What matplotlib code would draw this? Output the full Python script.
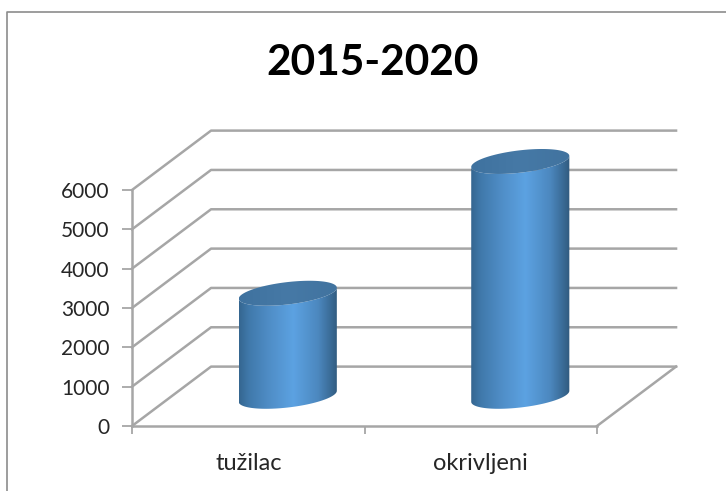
import numpy as np
import matplotlib
matplotlib.use('Agg')
import matplotlib.pyplot as plt
from matplotlib.colors import LinearSegmentedColormap
from matplotlib.lines import Line2D
from matplotlib.patches import Polygon

# Data
title = '2015-2020'
categories = ['tužilac', 'okrivljeni']
values = [2620, 5970]
y_ticks = [0, 1000, 2000, 3000, 4000, 5000, 6000]

# 3D look: shift of the back wall, in data units
depth_x, depth_y = 0.34, 1510
rx, ry_skew, ry = 0.211, 140, 285  # cylinder ellipse

W, H = 726, 491
grid_col = '#a6a6a6'
plt.rcParams['font.family'] = ['Lato', 'DejaVu Sans']

fig = plt.figure(figsize=(W/100, H/100), dpi=100)
ax = fig.add_axes([132/W, 1 - 426/H, (597-132)/W, (426-190)/H])
ax.set_xlim(0, len(categories))
ax.set_ylim(0, 6000)
ax.patch.set_alpha(0)
for s in ['top', 'right']:
    ax.spines[s].set_visible(False)
for s in ['left', 'bottom']:
    ax.spines[s].set_color(grid_col)
    ax.spines[s].set_linewidth(1.8)
ax.set_yticks(y_ticks)
ax.tick_params(axis='y', length=7, width=1.3, color=grid_col, labelsize=15,
               labelcolor='#262626', pad=9)
ax.set_xticks(range(len(categories) + 1))
ax.set_xticklabels([])
ax.tick_params(axis='x', length=6, width=1.3, color=grid_col)
ax.set_xticks([i + 0.5 for i in range(len(categories))], categories, minor=True)
ax.tick_params(axis='x', which='minor', length=0, labelsize=17, labelcolor='#262626', pad=19.5)

# Gridlines on the side wall and back wall
xmax = len(categories)
for v in y_ticks:
    ax.plot([0, depth_x, xmax + depth_x], [v, v + depth_y, v + depth_y],
            color=grid_col, lw=1.8, clip_on=False, zorder=1)
ax.plot([xmax, xmax + depth_x], [0, depth_y], color=grid_col, lw=1.8, clip_on=False, zorder=1)

# Cylinders
body_cmap = LinearSegmentedColormap.from_list('body', [
    (0, '#356690'), (0.1, '#4079ab'), (0.3, '#4f8dc6'), (0.55, '#5ca2e2'),
    (0.8, '#4c88bf'), (0.93, '#3a6b96'), (1, '#315a7e')])
top_cmap = LinearSegmentedColormap.from_list('top', ['#3f729f', '#4679a6', '#41739f'])
ramp = np.linspace(0, 1, 256).reshape(1, -1)

t_front = np.linspace(np.pi, 2*np.pi, 80)
t_all = np.linspace(0, 2*np.pi, 160)

for i, val in enumerate(values):
    cx = i + 0.5 + depth_x/2
    base = depth_y/2
    top = base + val
    bottom_arc = np.c_[cx + rx*np.cos(t_front), base + ry_skew*np.cos(t_front) + ry*np.sin(t_front)]
    top_arc = np.c_[cx + rx*np.cos(t_front), top + ry_skew*np.cos(t_front) + ry*np.sin(t_front)]
    body = Polygon(np.r_[bottom_arc, top_arc[::-1]], closed=True, fc='none', ec='none', clip_on=False)
    ax.add_patch(body)
    im = ax.imshow(ramp, cmap=body_cmap, aspect='auto', zorder=3,
                   extent=[cx - rx, cx + rx, base - 600, top + 600])
    im.set_clip_box(fig.bbox)
    im.set_clip_path(body)
    cap = Polygon(np.c_[cx + rx*np.cos(t_all), top + ry_skew*np.cos(t_all) + ry*np.sin(t_all)],
                  closed=True, fc='none', ec='none', clip_on=False)
    ax.add_patch(cap)
    im2 = ax.imshow(ramp, cmap=top_cmap, aspect='auto', zorder=4,
                    extent=[cx - rx, cx + rx, top - 600, top + 600])
    im2.set_clip_box(fig.bbox)
    im2.set_clip_path(cap)

ax.set_xlim(0, len(categories))
ax.set_ylim(0, 6000)

fig.text(373/W, 1 - 63/H, title, ha='center', va='center', fontsize=30.5, fontweight='bold', color='black')

# Screenshot frame
fig.add_artist(Line2D([7/W, 7/W, 1], [0, 1 - 12/H, 1 - 12/H], color='#8c8c8c', lw=1.2))

fig.savefig('out.png', dpi=100)
